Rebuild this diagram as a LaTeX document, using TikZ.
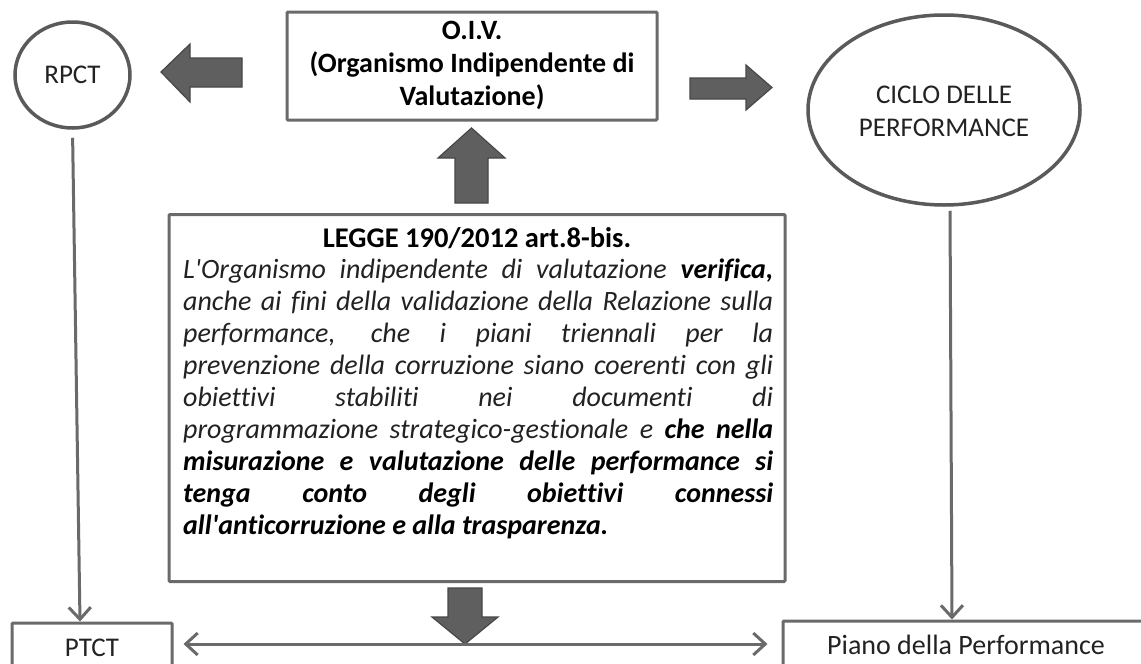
\documentclass[tikz,border=0pt]{standalone}
\usepackage{fontspec}
\setmainfont{Carlito}[Ligatures={CommonOff,TeXOff}]
\usetikzlibrary{arrows.meta,shapes.geometric}
\definecolor{lnc}{HTML}{6A6A6A}
\definecolor{bdc}{HTML}{5A5A5A}
\definecolor{blkfill}{HTML}{5F5F5F}
\definecolor{blkdraw}{HTML}{474747}
\definecolor{txc}{HTML}{222222}
\tikzset{
  boxst/.style={draw=lnc, line width=3pt, rounded corners=1pt, inner sep=0pt},
  ovalst/.style={ellipse, draw=bdc, line width=3.5pt, inner sep=0pt},
  blockarrow/.style={fill=blkfill, draw=blkdraw, line width=1.2pt, line join=miter},
  thinarrow/.style={draw=lnc, line width=3pt, -{Straight Barb[length=12pt,width=22pt,line width=3pt]}},
  dblarrow/.style={draw=lnc, line width=3pt, {Straight Barb[length=12pt,width=22pt,line width=3pt]}-{Straight Barb[length=12pt,width=22pt,line width=3pt]}},
  lbl/.style={text=txc, align=center, inner sep=0pt},
}
\begin{document}
\begin{tikzpicture}[x=1pt,y=-1pt]
\clip (0,0) rectangle (1141,664);
\fill[white] (0,0) rectangle (1141,664);

% nodes
\node[ovalst, minimum width=115pt, minimum height=106pt] (rpct) at (72.5,75) {};
\node[lbl, font=\fontsize{27}{30}\selectfont] (rpcttxt) at (rpct.center) {RPCT};

\node[boxst, minimum width=370pt, minimum height=108pt] (oiv) at (472,66) {};
\node[lbl, text=black, font=\fontsize{28}{33}\selectfont\bfseries] (oivtxt) at (472,65.5) {O.I.V.\\(Organismo Indipendente di\\Valutazione)};

\node[ovalst, minimum width=272pt, minimum height=190pt] (ciclo) at (944,110) {};
\node[lbl, font=\fontsize{27}{33}\selectfont] (ciclotxt) at (944,111) {CICLO DELLE\\PERFORMANCE};

\node[boxst, minimum width=616pt, minimum height=367pt] (legge) at (477,398) {};
\node[lbl, text=black, font=\fontsize{28.5}{30}\selectfont\bfseries, anchor=center] (leggetit) at (477,238.5) {LEGGE 190/2012 art.8-bis.};
\node[text=txc, inner sep=0pt, text width=590pt, align=justify, anchor=north west,
      font=\fontsize{28}{32}\selectfont\itshape] (leggetxt) at (183,259)
{L'Organismo indipendente di valutazione \textbf{\color{black}verifica,}\linebreak
anche ai fini della validazione della Relazione sulla\linebreak
performance, che i piani triennali per la\linebreak
prevenzione della corruzione siano coerenti con gli\linebreak
obiettivi stabiliti nei documenti di\linebreak
programmazione strategico-gestionale e \textbf{\color{black}che nella}\linebreak
\textbf{\color{black}misurazione e valutazione delle performance si}\linebreak
\textbf{\color{black}tenga conto degli obiettivi connessi}\linebreak
\textbf{\color{black}all'anticorruzione e alla trasparenza.}};

\node[boxst, minimum width=160pt, minimum height=80pt] (ptct) at (92,663) {};
\node[lbl, font=\fontsize{27}{30}\selectfont] (ptcttxt) at (92,648) {PTCT};

\node[boxst, minimum width=360pt, minimum height=80pt] (piano) at (963,661) {};
\node[lbl, font=\fontsize{28}{30}\selectfont] (pianotxt) at (966,645) {Piano della Performance};

% block arrows
\path[blockarrow] (242,58) -- (190,58) -- (190,44) -- (161,72) -- (190,102) -- (190,87) -- (242,87) -- cycle;
\path[blockarrow] (690,78) -- (746,78) -- (746,65) -- (772,87.5) -- (746,110) -- (746,99) -- (690,99) -- cycle;
\path[blockarrow] (455,203) -- (455,158) -- (438,158) -- (471.5,128) -- (505,158) -- (488,158) -- (488,203) -- cycle;
\path[blockarrow] (448,588) -- (482,588) -- (482,617) -- (498,617) -- (465,644) -- (432,617) -- (448,617) -- cycle;

% connectors
\draw[thinarrow, shorten <=8pt] (rpct.south) -- ([xshift=-12pt]ptct.north);
\draw[thinarrow, shorten <=4pt] (ciclo.south) ++(6,0) coordinate (cs) -- ([xshift=-11pt]piano.north);
\draw[dblarrow] ([xshift=10pt]ptct.east |- 0,644) -- ([xshift=-14pt]piano.west |- 0,644);
\end{tikzpicture}
\end{document}
